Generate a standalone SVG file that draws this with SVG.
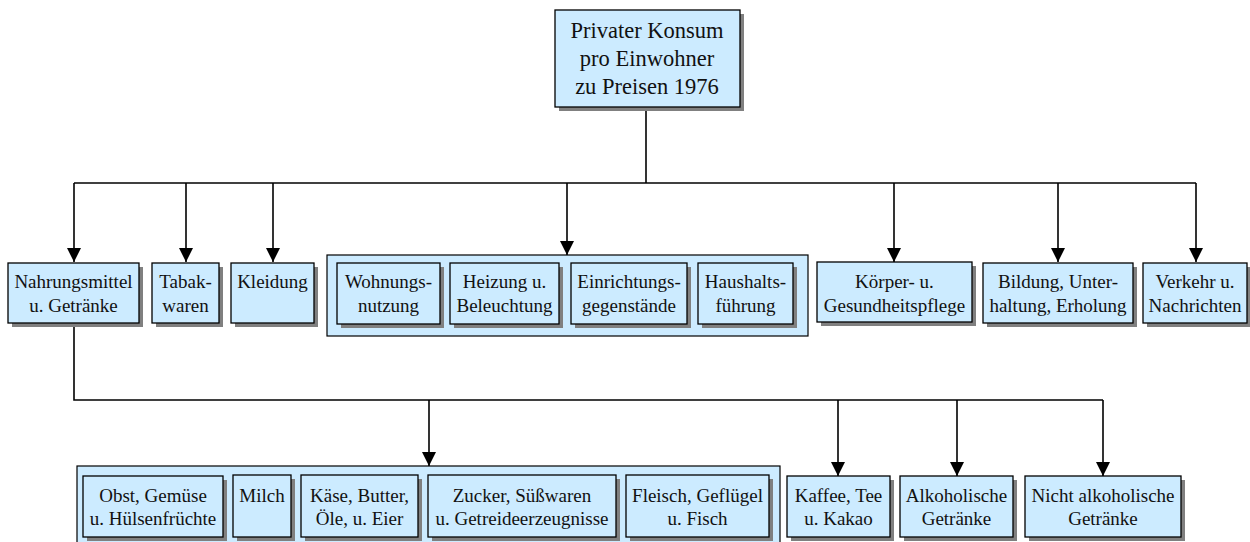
<svg xmlns="http://www.w3.org/2000/svg" width="1250" height="542" viewBox="0 0 1250 542">
<style>
.sh{fill:#808080}
.bx{fill:#CCEBFF;stroke:#000;stroke-width:1.3}
.grp{fill:#CCEBFF;stroke:#000;stroke-width:1.2}
.t{font-family:"Liberation Serif","Times New Roman",serif;font-size:19px;fill:#111;text-anchor:middle}
.tt{font-family:"Liberation Serif","Times New Roman",serif;font-size:22.5px;fill:#111;text-anchor:middle}
.ln{fill:none;stroke:#000;stroke-width:1.6}
</style>
<defs>
<marker id="ah" markerUnits="userSpaceOnUse" markerWidth="14" markerHeight="16" viewBox="0 0 14 16" refX="14" refY="7" orient="auto">
<path d="M0,0 L14,7 L0,14 Z" fill="#000"/>
</marker>
</defs>
<g id="connectors">
<path class="ln" d="M646,107 V183"/>
<path class="ln" d="M74,183 H1196"/>
<path class="ln" d="M74,183 V262" marker-end="url(#ah)"/>
<path class="ln" d="M186,183 V262" marker-end="url(#ah)"/>
<path class="ln" d="M273,183 V262" marker-end="url(#ah)"/>
<path class="ln" d="M567,183 V255" marker-end="url(#ah)"/>
<path class="ln" d="M894,183 V262" marker-end="url(#ah)"/>
<path class="ln" d="M1058,183 V262" marker-end="url(#ah)"/>
<path class="ln" d="M1196,183 V262" marker-end="url(#ah)"/>
<path class="ln" d="M74,323 V400 H1103"/>
<path class="ln" d="M429,400 V466" marker-end="url(#ah)"/>
<path class="ln" d="M838,400 V476" marker-end="url(#ah)"/>
<path class="ln" d="M957,400 V476" marker-end="url(#ah)"/>
<path class="ln" d="M1103,400 V476" marker-end="url(#ah)"/>
</g>
<g id="root">
<rect class="sh" x="559" y="14" width="185" height="97"/>
<rect class="bx" x="555" y="10" width="185" height="97"/>
<text class="tt" x="647" y="38">Privater Konsum</text>
<text class="tt" x="647" y="66">pro Einwohner</text>
<text class="tt" x="647" y="94">zu Preisen 1976</text>
</g>
<g id="nahrung">
<rect class="sh" x="12" y="267" width="131" height="60"/>
<rect class="bx" x="8" y="263" width="131" height="60"/>
<text class="t" x="73.5" y="288">Nahrungsmittel</text>
<text class="t" x="73.5" y="312">u. Getränke</text>
</g>
<g id="tabak">
<rect class="sh" x="156" y="267" width="67" height="60"/>
<rect class="bx" x="152" y="263" width="67" height="60"/>
<text class="t" x="185.5" y="288">Tabak-</text>
<text class="t" x="185.5" y="312">waren</text>
</g>
<g id="kleidung">
<rect class="sh" x="235" y="267" width="83" height="60"/>
<rect class="bx" x="231" y="263" width="83" height="60"/>
<text class="t" x="272.5" y="288">Kleidung</text>
</g>
<g id="wohnen">
<rect class="grp" x="327" y="255" width="481" height="81"/>
<g id="wohnungsnutzung">
<rect class="sh" x="341" y="267" width="103" height="61"/>
<rect class="bx" x="337" y="263" width="103" height="61"/>
<text class="t" x="388.5" y="288">Wohnungs-</text>
<text class="t" x="388.5" y="312">nutzung</text>
</g>
<g id="heizung">
<rect class="sh" x="454" y="267" width="109" height="61"/>
<rect class="bx" x="450" y="263" width="109" height="61"/>
<text class="t" x="504.5" y="288">Heizung u.</text>
<text class="t" x="504.5" y="312">Beleuchtung</text>
</g>
<g id="einrichtung">
<rect class="sh" x="575" y="267" width="116" height="61"/>
<rect class="bx" x="571" y="263" width="116" height="61"/>
<text class="t" x="629" y="288">Einrichtungs-</text>
<text class="t" x="629" y="312">gegenstände</text>
</g>
<g id="haushalt">
<rect class="sh" x="702" y="267" width="95" height="61"/>
<rect class="bx" x="698" y="263" width="95" height="61"/>
<text class="t" x="745.5" y="288">Haushalts-</text>
<text class="t" x="745.5" y="312">führung</text>
</g>
</g>
<g id="koerper">
<rect class="sh" x="821" y="266" width="155" height="60"/>
<rect class="bx" x="817" y="262" width="155" height="60"/>
<text class="t" x="894.5" y="288">Körper- u.</text>
<text class="t" x="894.5" y="312">Gesundheitspflege</text>
</g>
<g id="bildung">
<rect class="sh" x="987" y="267" width="150" height="60"/>
<rect class="bx" x="983" y="263" width="150" height="60"/>
<text class="t" x="1058" y="288">Bildung, Unter-</text>
<text class="t" x="1058" y="312">haltung, Erholung</text>
</g>
<g id="verkehr">
<rect class="sh" x="1147" y="267" width="104" height="60"/>
<rect class="bx" x="1143" y="263" width="104" height="60"/>
<text class="t" x="1195" y="288">Verkehr u.</text>
<text class="t" x="1195" y="312">Nachrichten</text>
</g>
<g id="nahrungsgruppe">
<rect class="grp" x="77" y="466" width="703" height="90"/>
<g id="obst">
<rect class="sh" x="87" y="480" width="140" height="61"/>
<rect class="bx" x="83" y="476" width="140" height="61"/>
<text class="t" x="153" y="502">Obst, Gemüse</text>
<text class="t" x="153" y="525">u. Hülsenfrüchte</text>
</g>
<g id="milch">
<rect class="sh" x="237" y="479" width="58" height="62"/>
<rect class="bx" x="233" y="475" width="58" height="62"/>
<text class="t" x="262" y="502">Milch</text>
</g>
<g id="kaese">
<rect class="sh" x="305" y="479" width="117" height="62"/>
<rect class="bx" x="301" y="475" width="117" height="62"/>
<text class="t" x="359.5" y="502">Käse, Butter,</text>
<text class="t" x="359.5" y="525">Öle, u. Eier</text>
</g>
<g id="zucker">
<rect class="sh" x="432" y="479" width="188" height="62"/>
<rect class="bx" x="428" y="475" width="188" height="62"/>
<text class="t" x="522" y="502">Zucker, Süßwaren</text>
<text class="t" x="522" y="525">u. Getreideerzeugnisse</text>
</g>
<g id="fleisch">
<rect class="sh" x="630" y="479" width="143" height="62"/>
<rect class="bx" x="626" y="475" width="143" height="62"/>
<text class="t" x="697.5" y="502">Fleisch, Geflügel</text>
<text class="t" x="697.5" y="525">u. Fisch</text>
</g>
</g>
<g id="kaffee">
<rect class="sh" x="791" y="480" width="103" height="61"/>
<rect class="bx" x="787" y="476" width="103" height="61"/>
<text class="t" x="838.5" y="502">Kaffee, Tee</text>
<text class="t" x="838.5" y="525">u. Kakao</text>
</g>
<g id="alkoholisch">
<rect class="sh" x="904" y="480" width="113" height="61"/>
<rect class="bx" x="900" y="476" width="113" height="61"/>
<text class="t" x="956.5" y="502">Alkoholische</text>
<text class="t" x="956.5" y="525">Getränke</text>
</g>
<g id="nichtalkoholisch">
<rect class="sh" x="1029" y="480" width="156" height="61"/>
<rect class="bx" x="1025" y="476" width="156" height="61"/>
<text class="t" x="1103" y="502">Nicht alkoholische</text>
<text class="t" x="1103" y="525">Getränke</text>
</g>
</svg>
